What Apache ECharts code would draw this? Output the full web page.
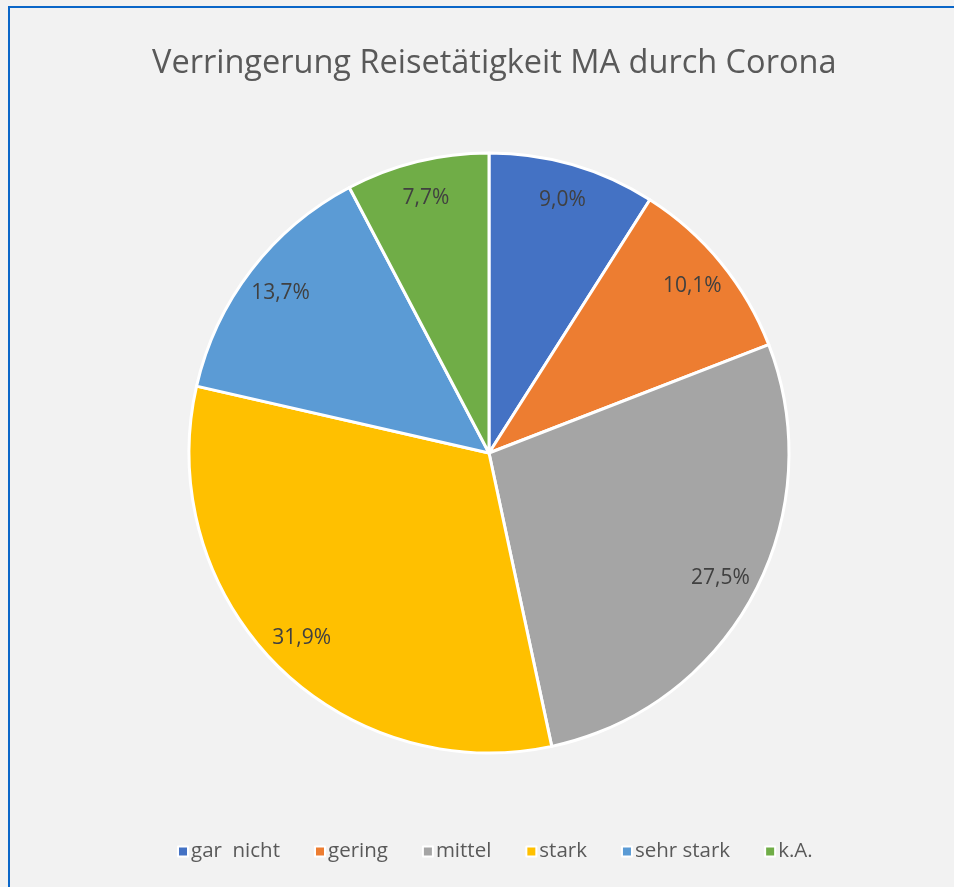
<!DOCTYPE html>
<html>
<head>
<meta charset="utf-8">
<script src="https://cdn.jsdelivr.net/npm/echarts@6/dist/echarts.min.js"></script>
<style>
    html, body { margin: 0; padding: 0; background: #f2f2f2; }
    #frame {
        position: absolute; left: 8px; top: 6px; width: 946px; height: 881px;
        border-left: 2px solid #0a66c8; border-top: 2px solid #0a66c8;
        box-sizing: border-box;
    }
    #chart { position: absolute; left: 0; top: 0; width: 954px; height: 887px; }
</style>
</head>
<body>
<div id="frame"></div>
<div id="chart"></div>
<script>
    var categories = ['gar  nicht', 'gering', 'mittel', 'stark', 'sehr stark', 'k.A.'];
    var shares = [9.0, 10.1, 27.5, 31.9, 13.7, 7.7];
    var colors = ['#4472c4', '#ed7d31', '#a5a5a5', '#ffc000', '#5b9bd5', '#70ad47'];

    var pieData = categories.map(function (name, i) {
        return { name: name, value: shares[i] };
    });

    var myChart = echarts.init(document.getElementById('chart'));
    var option = {
        color: colors,
        textStyle: { fontFamily: 'Open Sans' },
        title: {
            text: 'Verringerung Reisetätigkeit MA durch Corona',
            left: 147,
            top: 42,
            textStyle: { fontSize: 32.5, fontWeight: 'normal', color: '#595959', fontFamily: 'Open Sans' }
        },
        legend: {
            bottom: 20,
            left: 172,
            itemWidth: 10,
            itemHeight: 10,
            itemGap: 34,
            icon: 'rect',
            itemStyle: { borderColor: '#ffffff', borderWidth: 2 },
            textStyle: { fontSize: 20.5, color: '#595959', padding: [0, 0, 0, -2] },
            data: categories
        },
        series: [
            {
                type: 'pie',
                center: [489, 453],
                radius: [0, 300],
                startAngle: 90,
                clockwise: true,
                itemStyle: { borderColor: '#ffffff', borderWidth: 3 },
                label: { show: false },
                labelLine: { show: false },
                emphasis: { disabled: true },
                data: pieData
            },
            {
                // transparent ring carrying the labels near the rim
                type: 'pie',
                center: [489, 453],
                radius: [215, 305],
                startAngle: 90,
                clockwise: true,
                silent: true,
                itemStyle: { color: 'transparent', borderWidth: 0 },
                label: {
                    show: true,
                    position: 'inside',
                    fontSize: 21,
                    color: '#404040',
                    formatter: function (p) {
                        return p.value.toFixed(1).replace('.', ',') + '%';
                    }
                },
                labelLine: { show: false },
                emphasis: { disabled: true },
                data: pieData
            }
        ]
    };
    myChart.setOption(option);
</script>
</body>
</html>
